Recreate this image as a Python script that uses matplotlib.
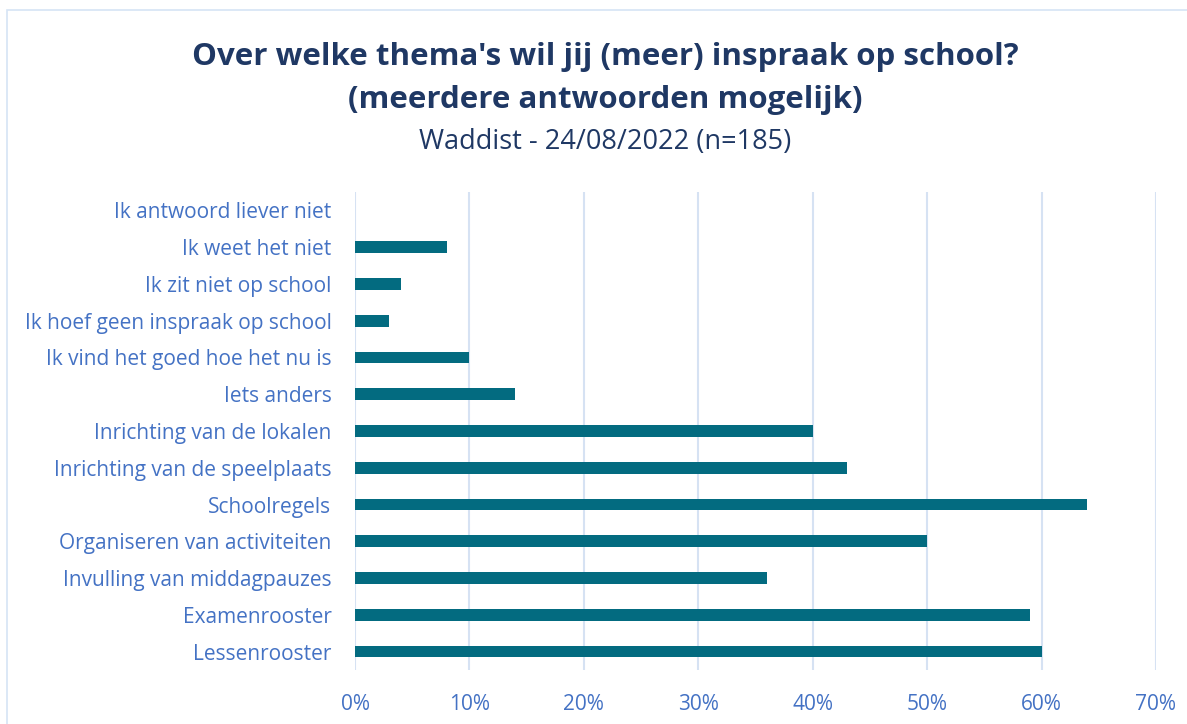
import numpy as np
import matplotlib.pyplot as plt
from matplotlib.patches import Rectangle
from matplotlib.ticker import FuncFormatter

plt.rcParams['font.family'] = ['Open Sans', 'DejaVu Sans']

categories = ['Lessenrooster', 'Examenrooster', 'Invulling van middagpauzes',
              'Organiseren van activiteiten', 'Schoolregels',
              'Inrichting van de speelplaats', 'Inrichting van de lokalen',
              'Iets anders', 'Ik vind het goed hoe het nu is',
              'Ik hoef geen inspraak op school', 'Ik zit niet op school',
              'Ik weet het niet', 'Ik antwoord liever niet']
values = [60, 59, 36, 50, 64, 43, 40, 14, 10, 3, 4, 8, 0]
xticks = [0, 10, 20, 30, 40, 50, 60, 70]

label_color = '#4472C4'
title_color = '#1F3864'
bar_color = '#036B80'
grid_color = '#D6E2F3'

fig = plt.figure(figsize=(11.87, 7.24), dpi=100)
fig.patches.append(Rectangle((7 / 1187, -0.1), 1.2, 1 - 10 / 724 + 0.1,
                             transform=fig.transFigure, fill=False,
                             edgecolor='#D6E4F5', linewidth=1.2))

ax = fig.add_axes([355 / 1187, 1 - 670 / 724, (1156 - 355) / 1187, (670 - 192) / 724])
y = np.arange(len(categories))
ax.barh(y, values, height=0.32, color=bar_color, zorder=3)

ax.set_xlim(0, 70)
ax.set_ylim(-0.5, len(categories) - 0.5)
ax.set_xticks(xticks)
ax.xaxis.set_major_formatter(FuncFormatter(lambda v, p: f'{v:.0f}%'))
ax.set_yticks(y)
ax.set_yticklabels(categories)
ax.tick_params(axis='both', length=0, colors=label_color, labelsize=15)
ax.tick_params(axis='x', pad=17)
ax.tick_params(axis='y', pad=17)
ax.grid(axis='x', color=grid_color, linewidth=1.5, zorder=0)
for s in ax.spines.values():
    s.set_visible(False)

cx = 605 / 1187
fig.text(cx, 1 - 57 / 724, "Over welke thema's wil jij (meer) inspraak op school?",
         ha='center', va='center', fontsize=22.5, fontweight='bold', color=title_color)
fig.text(cx, 1 - 100 / 724, "(meerdere antwoorden mogelijk)",
         ha='center', va='center', fontsize=22.5, fontweight='bold', color=title_color)
fig.text(cx, 1 - 142 / 724, "Waddist - 24/08/2022 (n=185)",
         ha='center', va='center', fontsize=19.5, color=title_color)

fig.savefig('out.png', dpi=100)
